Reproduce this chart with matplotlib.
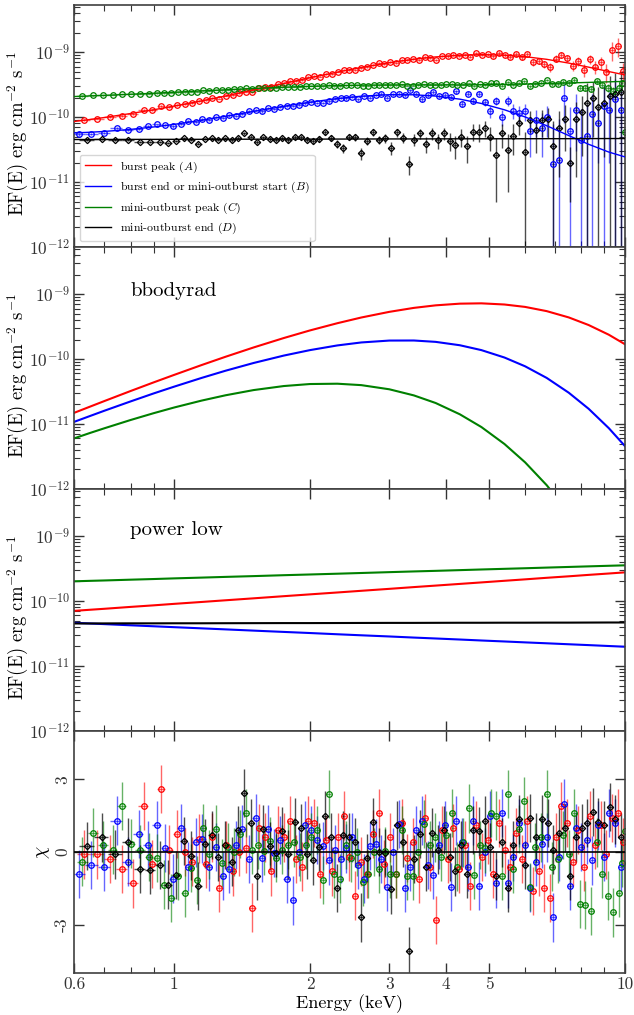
import numpy as np
import matplotlib
matplotlib.use("Agg")
import matplotlib.pyplot as plt
from matplotlib.lines import Line2D
from matplotlib.ticker import FixedLocator, FixedFormatter, NullFormatter

plt.rcParams['font.family'] = 'serif'
plt.rcParams['font.serif'] = ['cmr10']
plt.rcParams['mathtext.fontset'] = 'cm'
plt.rcParams['axes.formatter.use_mathtext'] = True
plt.rcParams['axes.unicode_minus'] = False

# ---- model components, log10(EF(E)) on a coarse energy grid (keV)
e_mod = [0.6, 0.65, 0.7, 0.8, 0.9, 1.0, 1.15, 1.3, 1.5, 1.75, 2.0, 2.3, 2.6, 3.0, 3.4,
         3.8, 4.3, 4.8, 5.4, 6.0, 6.7, 7.5, 8.3, 9.2, 10.0]
bb_a = [-10.827, -10.733, -10.646, -10.492, -10.359, -10.243, -10.092, -9.964, -9.821, -9.676,
        -9.559, -9.448, -9.360, -9.273, -9.212, -9.173, -9.147, -9.142, -9.160, -9.197,
        -9.262, -9.359, -9.476, -9.625, -9.773]
bb_b = [-10.966, -10.877, -10.795, -10.652, -10.529, -10.424, -10.290, -10.179, -10.060, -9.946,
        -9.862, -9.790, -9.744, -9.715, -9.714, -9.735, -9.787, -9.862, -9.976, -10.111,
        -10.290, -10.518, -10.765, -11.063, -11.342]
bb_c = [-11.220, -11.138, -11.065, -10.938, -10.833, -10.745, -10.639, -10.557, -10.477, -10.415,
        -10.384, -10.379, -10.401, -10.465, -10.559, -10.676, -10.850, -11.046, -11.307, -11.589,
        -11.941, -12.365, -12.809, -13.329, -13.804]
pl_a = [-10.151, -10.134, -10.119, -10.090, -10.066, -10.043, -10.014, -9.988, -9.958, -9.925,
        -9.897, -9.868, -9.842, -9.812, -9.785, -9.762, -9.736, -9.713, -9.688, -9.666,
        -9.642, -9.619, -9.597, -9.576, -9.558]
pl_b = [-10.335, -10.345, -10.355, -10.373, -10.388, -10.402, -10.420, -10.436, -10.455, -10.475,
        -10.492, -10.511, -10.527, -10.545, -10.562, -10.576, -10.592, -10.607, -10.622, -10.636,
        -10.650, -10.665, -10.678, -10.692, -10.703]
pl_c = [-9.696, -9.689, -9.683, -9.671, -9.661, -9.651, -9.639, -9.628, -9.616, -9.602,
        -9.591, -9.579, -9.568, -9.555, -9.544, -9.535, -9.524, -9.514, -9.504, -9.495,
        -9.485, -9.475, -9.466, -9.457, -9.450]
pl_d = [-10.345, -10.345, -10.344, -10.343, -10.343, -10.342, -10.342, -10.341, -10.340, -10.339,
        -10.339, -10.338, -10.337, -10.336, -10.336, -10.335, -10.334, -10.334, -10.333, -10.333,
        -10.332, -10.332, -10.331, -10.330, -10.330]

# ---- spectra: energy (keV), flux (1e-10 erg/cm2/s), error, residual chi
e_a = [0.63, 0.675, 0.72, 0.765, 0.81, 0.855, 0.895, 0.935, 0.975, 1.015, 1.055, 1.095, 1.135,
       1.175, 1.215, 1.26, 1.305, 1.35, 1.395, 1.44, 1.49, 1.54, 1.59, 1.64, 1.695, 1.75, 1.805,
       1.86, 1.92, 1.98, 2.04, 2.105, 2.17, 2.235, 2.305, 2.375, 2.445, 2.52, 2.595, 2.675, 2.755,
       2.84, 2.925, 3.01, 3.1, 3.195, 3.29, 3.39, 3.49, 3.595, 3.7, 3.81, 3.925, 4.04, 4.16, 4.285,
       4.41, 4.54, 4.675, 4.815, 4.955, 5.1, 5.25, 5.405, 5.565, 5.73, 5.9, 6.07, 6.25, 6.43, 6.62,
       6.815, 7.015, 7.22, 7.43, 7.65, 7.875, 8.105, 8.34, 8.585, 8.835, 9.09, 9.355, 9.63, 9.91]
f_a = [0.890, 0.949, 1.006, 1.056, 1.105, 1.301, 1.27, 1.477, 1.435, 1.542,
       1.58, 1.645, 1.775, 1.802, 1.956, 1.93, 2.145, 2.174, 2.34, 2.471,
       2.401, 2.79, 2.894, 2.918, 3.23, 3.36, 3.593, 3.577, 3.718, 4.126,
       4.296, 4.213, 4.60, 4.60, 5.02, 5.38, 5.316, 5.264, 5.718, 5.829,
       6.37, 6.77, 6.575, 7.032, 6.913, 7.628, 7.478, 7.864, 7.643, 8.502,
       8.10, 7.582, 8.868, 8.598, 9.18, 8.694, 9.12, 8.472, 9.595, 9.054,
       9.35, 8.583, 9.682, 9.03, 8.472, 9.256, 8.37, 9.402, 6.992, 7.394,
       6.55, 5.90, 7.94, 9.02, 8.12, 6.17, 7.375, 5.37, 7.78, 6.01,
       7.0, 4.96, 10.7, 12.5, 5.11]
err_a = [0.03, 0.03, 0.03, 0.035, 0.035, 0.04, 0.04, 0.045, 0.045, 0.05,
         0.05, 0.05, 0.055, 0.055, 0.06, 0.06, 0.065, 0.07, 0.07, 0.075,
         0.08, 0.08, 0.09, 0.09, 0.1, 0.1, 0.11, 0.11, 0.12, 0.12,
         0.13, 0.13, 0.14, 0.15, 0.15, 0.16, 0.17, 0.17, 0.18, 0.19,
         0.2, 0.2, 0.21, 0.22, 0.23, 0.24, 0.25, 0.26, 0.27, 0.28,
         0.3, 0.31, 0.32, 0.34, 0.36, 0.38, 0.4, 0.42, 0.45, 0.48,
         0.5, 0.53, 0.56, 0.6, 0.63, 0.67, 0.7, 0.74, 0.78, 0.82,
         0.86, 0.9, 0.95, 1.0, 1.05, 1.1, 1.15, 1.2, 1.3, 1.4,
         1.5, 1.6, 3.5, 4.0, 1.6]
chi_a = [-0.1, -0.1, -0.3, -0.7, -1.3, 1.9, -0.5, 2.6, 0.1, 0.75,
         0.0, -0.4, 0.55, -0.5, 0.6, -1.5, 0.3, -0.8, 0.0, 0.15,
         -2.3, 1.0, 0.6, -0.8, 0.9, 0.6, 1.3, -0.3, -0.6, 1.3,
         1.2, -0.9, 0.5, -0.8, 0.6, 1.5, -0.2, -1.8, -0.4, -0.9,
         0.75, 1.6, -0.5, 0.6, -0.9, 1.2, -0.25, 0.4, -1.1, 1.4,
         -0.6, -2.8, 0.9, -0.3, 1.0, -0.7, 0.3, -1.4, 1.1, -0.2,
         0.5, -0.9, 1.2, 0.1, -0.6, 0.8, -0.3, 1.3, -1.6, -0.8,
         -1.5, -1.9, 0.6, 1.9, 1.2, -0.4, 0.9, -0.6, 1.5, 0.3,
         1.1, -0.1, 1.4, 1.6, 0.4]

e_b = [0.615, 0.655, 0.7, 0.745, 0.79, 0.835, 0.875, 0.915, 0.955, 0.995, 1.035, 1.075, 1.115,
       1.155, 1.195, 1.237, 1.28, 1.325, 1.37, 1.415, 1.465, 1.515, 1.565, 1.615, 1.667, 1.72,
       1.775, 1.832, 1.89, 1.95, 2.01, 2.072, 2.137, 2.202, 2.27, 2.34, 2.41, 2.482, 2.557, 2.635,
       2.715, 2.797, 2.882, 2.967, 3.055, 3.147, 3.242, 3.34, 3.44, 3.542, 3.647, 3.755, 3.867,
       3.982, 4.1, 4.222, 4.347, 4.475, 4.607, 4.745, 4.885, 5.027, 5.175, 5.327, 5.485, 5.647,
       5.815, 5.985, 6.16, 6.34, 6.525, 6.717, 6.915, 7.117, 7.325, 7.54, 7.762, 7.99, 8.222,
       8.462, 8.71, 8.962, 9.222, 9.492, 9.77]
f_b = [0.54, 0.55, 0.56, 0.69, 0.64, 0.65, 0.72, 0.77, 0.75, 0.72,
       0.79, 0.86, 0.83, 0.92, 0.91, 0.99, 0.97, 1.06, 1.05, 1.12,
       1.22, 1.30, 1.22, 1.40, 1.34, 1.42, 1.50, 1.49, 1.56, 1.62,
       1.72, 1.66, 1.66, 1.74, 1.93, 1.96, 1.95, 2.05, 1.87, 2.10,
       2.00, 2.20, 2.30, 2.00, 2.25, 2.30, 2.18, 2.57, 2.30, 1.87,
       2.20, 2.45, 2.15, 2.20, 2.05, 2.48, 1.60, 2.30, 1.80, 2.30,
       1.70, 1.22, 1.80, 1.00, 1.80, 1.25, 1.15, 1.22, 0.62, 0.90,
       0.69, 1.00, 0.19, 0.22, 2.00, 0.62, 1.30, 0.45, 0.52, 1.10,
       0.80, 1.50, 1.30, 1.90, 1.30]
err_b = [0.02, 0.02, 0.02, 0.025, 0.025, 0.025, 0.025, 0.025, 0.03, 0.03,
         0.03, 0.03, 0.03, 0.035, 0.035, 0.035, 0.04, 0.04, 0.04, 0.045,
         0.045, 0.05, 0.05, 0.05, 0.055, 0.055, 0.06, 0.06, 0.065, 0.065,
         0.07, 0.07, 0.075, 0.075, 0.08, 0.08, 0.085, 0.085, 0.09, 0.09,
         0.095, 0.1, 0.1, 0.105, 0.11, 0.115, 0.12, 0.125, 0.13, 0.135,
         0.14, 0.15, 0.155, 0.16, 0.17, 0.18, 0.19, 0.2, 0.21, 0.22,
         0.23, 0.24, 0.26, 0.28, 0.3, 0.32, 0.34, 0.36, 0.38, 0.4,
         0.45, 0.5, 0.6, 0.7, 1.2, 0.8, 1.0, 0.9, 1.0, 1.2,
         0.6, 1.6, 1.1, 2.0, 1.5]
chi_b = [-0.9, -0.55, -0.6, 1.3, -0.4, 0.75, 0.3, 1.1, 0.17, -1.1,
         1.0, -0.6, 0.4, 0.55, -0.6, 0.2, -1.0, -0.7, 0.3, 0.95,
         -0.3, 1.4, -0.25, 0.95, -0.05, 0.5, -1.1, -2.0, 0.0, 1.1,
         0.9, 0.5, 0.25, -0.35, 0.1, -0.3, 0.15, 0.6, -0.55, -1.1,
         0.25, 0.35, -0.3, -1.45, 0.0, 1.15, -1.5, -0.6, 0.9, 1.3,
         -0.55, -0.95, 0.3, 1.1, -1.45, 1.3, 0.4, -0.6, 1.3, -1.4,
         0.0, 1.5, -1.3, 1.6, -1.3, -0.2, 1.2, 0.3, -1.5, -0.4,
         0.35, 0.6, -2.7, -0.2, 2.0, -1.4, 1.0, 0.2, 0.5, -0.35,
         1.1, -0.2, 1.6, 1.2, -0.6]

e_c = [0.625, 0.66, 0.695, 0.73, 0.765, 0.8, 0.84, 0.88, 0.915, 0.95, 0.985, 1.02, 1.055, 1.09,
       1.125, 1.16, 1.197, 1.235, 1.275, 1.315, 1.357, 1.4, 1.445, 1.49, 1.537, 1.585, 1.635,
       1.685, 1.737, 1.79, 1.845, 1.9, 1.957, 2.015, 2.075, 2.137, 2.2, 2.265, 2.332, 2.4, 2.47,
       2.542, 2.617, 2.692, 2.77, 2.85, 2.932, 3.017, 3.105, 3.195, 3.287, 3.382, 3.48, 3.58,
       3.684, 3.79, 3.9, 4.012, 4.128, 4.247, 4.37, 4.496, 4.626, 4.76, 4.897, 5.038, 5.183,
       5.333, 5.487, 5.645, 5.808, 5.975, 6.147, 6.324, 6.507, 6.694, 6.887, 7.085, 7.29, 7.5,
       7.716, 7.938, 8.167, 8.403, 8.645, 8.895, 9.152, 9.417, 9.688, 9.86, 9.97]
f_c = [2.084, 2.152, 2.166, 2.193, 2.275, 2.259, 2.284, 2.308, 2.335, 2.332,
       2.343, 2.395, 2.396, 2.457, 2.467, 2.568, 2.557, 2.618, 2.598, 2.649,
       2.67, 2.726, 2.776, 2.752, 2.786, 2.802, 2.844, 2.84, 2.884, 2.912,
       2.936, 2.932, 2.972, 3.007, 3.041, 2.968, 3.138, 3.0, 3.005, 3.085,
       3.068, 3.09, 3.031, 3.06, 3.115, 3.082, 3.128, 3.076, 3.076, 3.184,
       3.065, 3.065, 3.13, 3.21, 3.151, 3.175, 3.115, 3.186, 3.266, 3.076,
       3.166, 3.306, 3.05, 3.18, 3.172, 3.352, 3.35, 3.053, 3.498, 3.102,
       3.343, 3.538, 3.003, 3.284, 3.373, 3.736, 3.18, 3.254, 3.501, 3.331,
       3.77, 2.831, 2.794, 2.695, 3.582, 3.145, 2.814, 2.50, 2.816, 3.346,
       0.58]
err_c = [0.03, 0.03, 0.03, 0.03, 0.03, 0.03, 0.03, 0.03, 0.03, 0.03,
         0.03, 0.035, 0.035, 0.035, 0.035, 0.035, 0.035, 0.035, 0.035, 0.035,
         0.035, 0.035, 0.035, 0.035, 0.04, 0.04, 0.04, 0.04, 0.04, 0.04,
         0.04, 0.04, 0.04, 0.045, 0.045, 0.045, 0.045, 0.05, 0.05, 0.05,
         0.05, 0.055, 0.055, 0.055, 0.055, 0.055, 0.055, 0.06, 0.06, 0.06,
         0.065, 0.065, 0.065, 0.07, 0.07, 0.075, 0.075, 0.08, 0.085, 0.09,
         0.09, 0.095, 0.1, 0.1, 0.11, 0.12, 0.12, 0.125, 0.13, 0.14,
         0.14, 0.15, 0.16, 0.17, 0.18, 0.19, 0.2, 0.22, 0.23, 0.24,
         0.25, 0.26, 0.28, 0.3, 0.33, 0.35, 0.37, 0.4, 0.42, 0.43,
         0.12]
chi_c = [-0.4, 0.8, 0.3, 0.1, 1.9, 0.35, 0.1, -0.2, -0.25, -1.35,
         -1.9, -1.0, -1.7, -0.65, -1.15, 1.0, -0.1, 0.95, -0.45, 0.2,
         0.0, 0.75, 1.6, 0.1, 0.3, 0.05, 0.45, -0.25, 0.1, 0.3,
         0.4, -0.2, 0.3, 0.6, 0.9, -1.15, 2.4, -0.9, -1.1, 0.3,
         -0.25, 0.0, -1.25, -0.9, 0.0, -0.7, 0.05, -0.9, -0.9, 0.9,
         -1.0, -1.0, 0.0, 1.15, 0.3, 0.6, -0.2, 0.7, 1.6, -0.6,
         0.4, 1.8, -0.95, 0.3, 0.15, 1.6, 1.5, -1.0, 2.4, -0.7,
         0.95, 2.1, -1.45, 0.2, 0.6, 2.4, -0.6, -0.3, 0.7, -0.1,
         1.6, -2.15, -2.2, -2.45, 0.4, -0.9, -1.8, -2.5, -1.7, -0.45,
         0.85]

e_d = [0.64, 0.69, 0.74, 0.79, 0.84, 0.885, 0.93, 0.97, 1.01, 1.05, 1.09, 1.13, 1.17, 1.21,
       1.252, 1.295, 1.34, 1.385, 1.43, 1.477, 1.527, 1.577, 1.63, 1.682, 1.737, 1.792, 1.85,
       1.91, 1.97, 2.032, 2.097, 2.162, 2.23, 2.3, 2.372, 2.445, 2.52, 2.6, 2.68, 2.762, 2.847,
       2.935, 3.025, 3.117, 3.212, 3.31, 3.41, 3.515, 3.622, 3.732, 3.845, 3.962, 4.082, 4.205,
       4.332, 4.462, 4.597, 4.735, 4.877, 5.022, 5.172, 5.327, 5.485, 5.65, 5.818, 5.99, 6.168,
       6.35, 6.538, 6.73, 6.928, 7.132, 7.342, 7.557, 7.777, 8.005, 8.24, 8.48, 8.727, 8.98,
       9.242, 9.512, 9.79]
f_d = [0.45, 0.46, 0.44, 0.45, 0.42, 0.42, 0.41, 0.40, 0.43, 0.47,
       0.45, 0.39, 0.46, 0.47, 0.45, 0.47, 0.44, 0.48, 0.56, 0.50,
       0.41, 0.49, 0.46, 0.45, 0.48, 0.44, 0.50, 0.50, 0.45, 0.43,
       0.46, 0.58, 0.48, 0.39, 0.33, 0.50, 0.49, 0.28, 0.43, 0.58,
       0.45, 0.47, 0.34, 0.58, 0.48, 0.19, 0.45, 0.56, 0.39, 0.56,
       0.44, 0.56, 0.43, 0.37, 0.50, 0.36, 0.60, 0.60, 0.69, 0.50,
       0.26, 0.56, 0.31, 0.52, 0.81, 0.29, 0.89, 0.64, 0.89, 0.92,
       0.36, 0.67, 0.92, 0.20, 0.92, 1.20, 1.64, 2.00, 1.42, 1.64,
       2.10, 2.30, 2.40]
err_d = [0.015, 0.015, 0.015, 0.015, 0.015, 0.016, 0.016, 0.017, 0.018, 0.018,
         0.019, 0.02, 0.02, 0.022, 0.022, 0.023, 0.024, 0.025, 0.026, 0.027,
         0.028, 0.029, 0.03, 0.032, 0.033, 0.035, 0.036, 0.038, 0.04, 0.042,
         0.044, 0.046, 0.048, 0.05, 0.052, 0.055, 0.057, 0.06, 0.063, 0.066,
         0.07, 0.073, 0.077, 0.08, 0.085, 0.06, 0.094, 0.1, 0.105, 0.11,
         0.115, 0.12, 0.13, 0.14, 0.15, 0.16, 0.17, 0.18, 0.19, 0.2,
         0.21, 0.22, 0.24, 0.26, 0.28, 0.3, 0.33, 0.36, 0.4, 0.45,
         0.5, 0.55, 0.62, 0.15, 0.8, 0.95, 1.7, 1.5, 1.5, 1.4,
         2.2, 2.4, 2.5]
chi_d = [0.25, 0.6, -0.1, 0.4, -0.7, -0.75, -0.55, -1.35, -0.95, 0.45,
         -0.15, -1.4, 0.35, 0.7, -0.2, 0.3, -0.4, 0.9, 2.45, 1.2,
         -1.0, 0.95, 0.25, -0.05, 0.85, -0.1, 1.25, 1.0, -0.1, -0.35,
         0.2, 1.5, 0.6, -1.5, 0.7, 0.6, 0.4, -2.7, -0.25, 1.25,
         0.0, -0.05, -1.55, 1.1, 0.4, -4.1, -0.3, 0.75, -0.6, 0.8,
         0.1, 0.9, -0.2, -0.8, 0.3, -0.9, 0.9, 0.85, 1.3, 0.2,
         -1.0, 0.4, -1.5, 0.3, 1.35, -0.55, 1.4, 0.6, 1.35, 1.2,
         0.1, 0.8, 1.0, -1.0, 0.6, 1.0, 1.2, 1.65, 1.25, 1.1,
         1.85, 1.35, 0.6]

labels = [r'burst peak ($A$)', r'burst end or mini-outburst start ($B$)',
          r'mini-outburst peak ($C$)', r'mini-outburst end ($D$)']
colors = ['red', 'blue', 'green', 'black']
ecolors = [(1, 0, 0, 0.6), (0, 0, 1, 0.6), (0, 0.5, 0, 0.6), (0, 0, 0, 0.7)]
markers = ['o', 'o', 'o', 'D']


def half_widths(e):
    e = np.asarray(e)
    mid = np.sqrt(e[1:] * e[:-1])
    lo = np.r_[e[0] ** 2 / mid[0], mid]
    hi = np.r_[mid, e[-1] ** 2 / mid[-1]]
    return np.vstack([e - lo, hi - e])


series = [(e_a, f_a, err_a, chi_a), (e_b, f_b, err_b, chi_b),
          (e_c, f_c, err_c, chi_c), (e_d, f_d, err_d, chi_d)]
em = np.array(e_mod)
bbs = [bb_a, bb_b, bb_c, None]
pls = [pl_a, pl_b, pl_c, pl_d]

fig, axs = plt.subplots(4, 1, figsize=(6.34, 10.15), sharex=True)
fig.subplots_adjust(left=0.117, right=0.986, top=0.995, bottom=0.0414, hspace=0)

ax = axs[0]
for (e, f, err, chi), c, ec, mk, bb, pl in zip(series, colors, ecolors, markers, bbs, pls):
    e = np.array(e)
    ax.errorbar(e, np.array(f) * 1e-10, xerr=half_widths(e), yerr=np.array(err) * 1e-10,
                fmt=mk, ms=4.0 if mk == 'o' else 3.2, mfc='none', mec=c, mew=0.9,
                ecolor=ec, elinewidth=1.0, capsize=0, zorder=2)
    tot = 10 ** np.array(pl)
    if bb is not None:
        tot = tot + 10 ** np.array(bb)
    ax.plot(em, tot, color=c, lw=1.0, zorder=3)
handles = [Line2D([], [], color=c, lw=1.0) for c in colors]
ax.legend(handles, labels, loc='lower left', fontsize=8.5, handlelength=2.2,
          labelspacing=0.45, framealpha=0.8, edgecolor='0.8')

for bb, c in zip(bbs[:3], colors[:3]):
    axs[1].plot(em, 10 ** np.array(bb), color=c, lw=1.5)
axs[1].text(0.102, 0.82, 'bbodyrad', transform=axs[1].transAxes, fontsize=15, va='center')

for pl, c in zip(pls, colors):
    axs[2].plot(em, 10 ** np.array(pl), color=c, lw=1.5)
axs[2].text(0.102, 0.83, 'power low', transform=axs[2].transAxes, fontsize=15, va='center')

ax = axs[3]
ax.axhline(0, color='black', lw=1.2, zorder=5)
for (e, f, err, chi), c, ec, mk in zip(series, colors, ecolors, markers):
    e = np.array(e)
    ax.errorbar(e, chi, xerr=half_widths(e), yerr=1.0,
                fmt=mk, ms=4.0 if mk == 'o' else 3.2, mfc='none', mec=c, mew=0.9,
                ecolor=ec, elinewidth=1.0, capsize=0, zorder=2)
ax.set_ylim(-5, 5)
ax.set_yticks([-3, 0, 3])
ax.set_yticklabels(['-3', '0', '3'], rotation=90, va='center')
ax.set_ylabel(r'$\chi$', fontsize=14)
ax.yaxis.set_label_coords(-0.04, 0.5)
ax.set_xlabel('Energy (keV)', fontsize=13, labelpad=1)

for i, ax in enumerate(axs):
    ax.set_xscale('log')
    ax.set_xlim(0.6, 10)
    if i < 3:
        ax.set_yscale('log')
        ax.set_ylim(1e-12, 5.3e-9)
        ax.set_ylabel(r'EF(E) erg cm$^{-2}$ s$^{-1}$', fontsize=13.5)
        ax.yaxis.set_label_coords(-0.078, 0.47)
    ax.xaxis.set_major_locator(FixedLocator([0.6, 1, 2, 3, 4, 5, 10]))
    ax.xaxis.set_minor_locator(FixedLocator([0.7, 0.8, 0.9, 6, 7, 8, 9]))
    ax.xaxis.set_minor_formatter(NullFormatter())
    ax.tick_params(which='both', direction='in', top=True, right=True, labelsize=12.5,
                   colors='0.2', pad=3)
    ax.tick_params(which='major', length=7, width=1.0)
    ax.tick_params(which='minor', length=4, width=0.8)
    for s in ax.spines.values():
        s.set_linewidth(1.2)
        s.set_color('0.25')
axs[3].xaxis.set_major_formatter(FixedFormatter(['0.6', '1', '2', '3', '4', '5', '10']))

fig.savefig('out.png', dpi=100)
